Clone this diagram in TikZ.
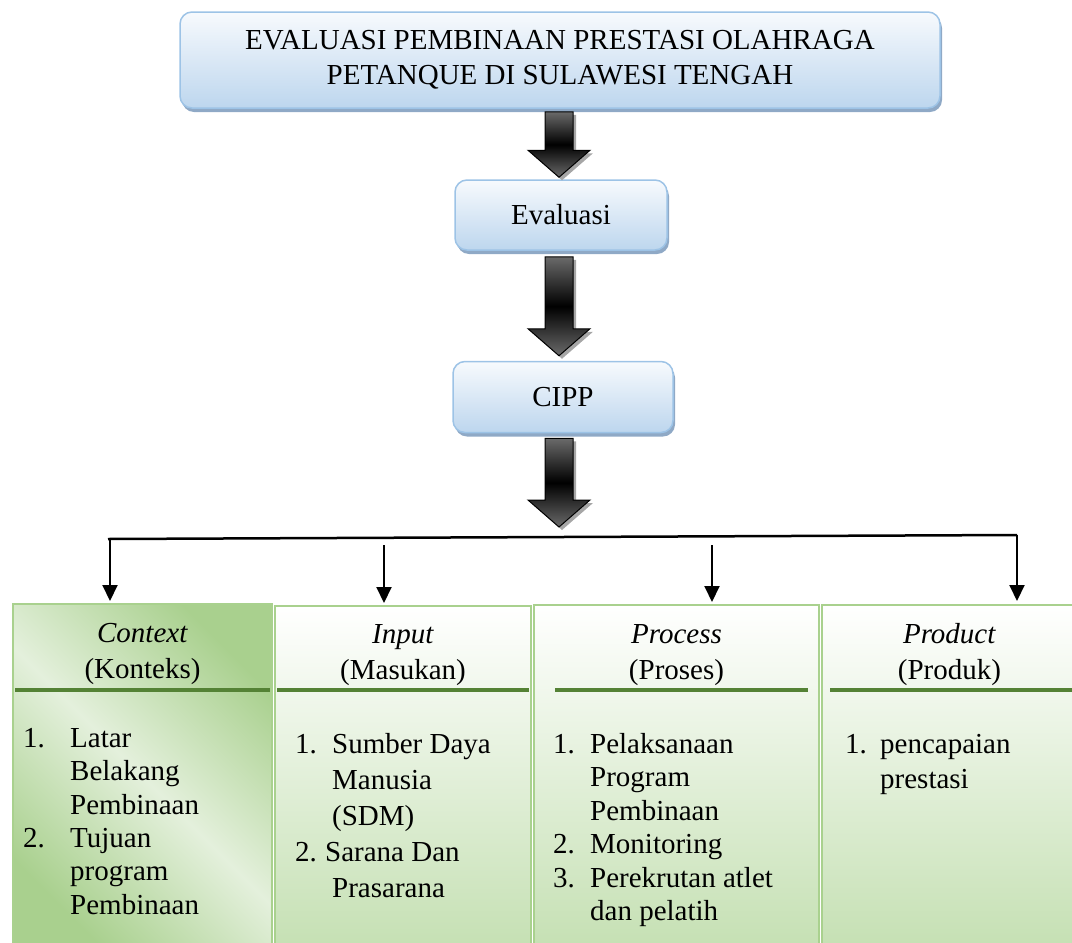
\documentclass[tikz,border=0pt]{standalone}
\usepackage{fontspec}
\setmainfont{Liberation Serif}
\usetikzlibrary{arrows.meta,calc,shadows}
\definecolor{bluebord}{HTML}{9DC3E6}
\definecolor{bluetop}{HTML}{F7FAFD}
\definecolor{bluebot}{HTML}{BDD6EE}
\definecolor{blueshadow}{HTML}{8FA9C6}
\definecolor{greenbord}{HTML}{A9D18E}
\definecolor{greenbot}{HTML}{C5E0B3}
\definecolor{greendark}{HTML}{A9D08E}
\definecolor{greenlight}{HTML}{E4F0DC}
\definecolor{hdrline}{HTML}{548235}
\definecolor{arrgray}{HTML}{6A6A6A}
\newcommand\BlkArrow[2]{%
  \path[blockarr] let \p1=(#1), \p2=(#2) in
    (\x1-14pt,\y1) -- (\x1+14pt,\y1) -- (\x1+14pt,\y2+27pt) -- (\x1+31pt,\y2+27pt)
    -- (\x1,\y2) -- (\x1-31pt,\y2+27pt) -- (\x1-14pt,\y2+27pt) -- cycle;}
\begin{document}
\begin{tikzpicture}[x=1pt,y=-1pt,
  bluebox/.style={draw=bluebord, line width=1.5pt, rounded corners=12pt,
    top color=bluetop, bottom color=bluebot, inner sep=0pt, align=center,
    font=\fontsize{29}{35}\selectfont,
    drop shadow={shadow xshift=2pt, shadow yshift=-4pt, fill=blueshadow, opacity=1}},
  blockarr/.style={draw=black, line width=1pt, top color=arrgray,
    bottom color=arrgray, middle color=black,
    drop shadow={shadow xshift=3pt, shadow yshift=-3pt, fill=gray!70, opacity=1}},
  greenbox/.style={draw=greenbord, line width=2pt, rectangle, anchor=north west, inner sep=0pt},
  plainshade/.style={top color=white, bottom color=greenbot},
  hdr/.style={draw=hdrline, line width=4pt},
  hdrtext/.style={anchor=north, inner sep=0pt, font=\fontsize{29}{36}\selectfont},
  listtext/.style={anchor=north west, inner sep=0pt},
  thinarr/.style={line width=2pt, -{Triangle[width=15pt,length=16pt]}},
  hline/.style={line width=2.5pt}
]
\useasboundingbox (0,0) rectangle (1072,943);

% top boxes
\node[bluebox, minimum width=760pt, minimum height=96pt] (title) at (560,60)
  {EVALUASI PEMBINAAN PRESTASI OLAHRAGA\\PETANQUE DI SULAWESI TENGAH};
\node[bluebox, minimum width=212pt, minimum height=70pt] (eval) at (561,215) {Evaluasi};
\node[bluebox, minimum width=220pt, minimum height=71pt] (cipp) at (563,397) {CIPP};

% block arrows
\coordinate (hub) at (559,527);
\BlkArrow{$(title.south)+(-1,3)$}{$(eval.north)+(-2,-2)$}
\BlkArrow{$(eval.south)+(-2,6)$}{$(cipp.north)+(-4,-5)$}
\BlkArrow{$(cipp.south)+(-4,5)$}{hub}

% bottom boxes
\node[greenbox, shading=axis, top color=greendark, bottom color=greendark,
  middle color=greenlight, shading angle=-45,
  minimum width=259pt, minimum height=345pt] (ctx) at (12,603) {};
\node[greenbox, plainshade, minimum width=256pt, minimum height=343pt] (inp) at (274,605) {};
\node[greenbox, plainshade, minimum width=285pt, minimum height=344pt] (prc) at (533,604) {};
\node[greenbox, plainshade, minimum width=255pt, minimum height=344pt] (prd) at (821,604) {};

% header separators
\draw[hdr] ($(ctx.north west)+(3,87)$) -- ($(ctx.north east)+(-3,87)$);
\draw[hdr] ($(inp.north west)+(3,85)$) -- ($(inp.north east)+(-3,85)$);
\draw[hdr] ($(prc.north west)+(22,86)$) -- ($(prc.north east)+(-12,86)$);
\draw[hdr] ($(prd.north west)+(9,86)$) -- ($(prd.north east)+(0,86)$);

% connectors
\coordinate (hl) at (108,539);
\coordinate (hr) at (1017,535);
\coordinate (m1) at (384,545);
\coordinate (m2) at (712,545);
\draw[hline] (hl) -- (hr);
\draw[thinarr] ($(hl)+(2,0)$) -- ($(hl |- ctx.north)+(2,-2)$);
\draw[thinarr] (m1) -- ($(m1 |- inp.north)+(0,-2)$);
\draw[thinarr] (m2) -- ($(m2 |- prc.north)+(0,-2)$);
\draw[thinarr] (hr) -- ($(hr |- prd.north)+(0,-3)$);

% headers
\node[hdrtext] (ctxh) at ($(ctx.north)+(0,14)$)
  {\begin{tabular}{@{}c@{}}\textit{Context}\\(Konteks)\end{tabular}};
\node[hdrtext] (inph) at ($(inp.north)+(0,13)$)
  {\begin{tabular}{@{}c@{}}\textit{Input}\\(Masukan)\end{tabular}};
\node[hdrtext] (prch) at ($(prc.north)+(0,14)$)
  {\begin{tabular}{@{}c@{}}\textit{Process}\\(Proses)\end{tabular}};
\node[hdrtext] (prdh) at ($(prd.north)+(0,14)$)
  {\begin{tabular}{@{}c@{}}\textit{Product}\\(Produk)\end{tabular}};

% lists
\node[listtext, font=\fontsize{29}{33.3}\selectfont] (ctxl) at (23,724)
  {\begin{tabular}{@{}l@{}}
   \makebox[47pt][l]{1.}Latar\\
   \hspace{47pt}Belakang\\
   \hspace{47pt}Pembinaan\\
   \makebox[47pt][l]{2.}Tujuan\\
   \hspace{47pt}program\\
   \hspace{47pt}Pembinaan
   \end{tabular}};
\node[listtext, font=\fontsize{29}{36}\selectfont] (inpl) at (295,728)
  {\begin{tabular}{@{}l@{}}
   \makebox[37pt][l]{1.}Sumber Daya\\
   \hspace{37pt}Manusia\\
   \hspace{37pt}(SDM)\\
   \makebox[30pt][l]{2.}Sarana Dan\\
   \hspace{37pt}Prasarana
   \end{tabular}};
\node[listtext, font=\fontsize{29}{33.5}\selectfont] (prcl) at (553,729.5)
  {\begin{tabular}{@{}l@{}}
   \makebox[37pt][l]{1.}Pelaksanaan\\
   \hspace{37pt}Program\\
   \hspace{37pt}Pembinaan\\
   \makebox[37pt][l]{2.}Monitoring\\
   \makebox[37pt][l]{3.}Perekrutan atlet\\
   \hspace{37pt}dan pelatih
   \end{tabular}};
\node[listtext, font=\fontsize{29}{35}\selectfont] (prdl) at (845,728.5)
  {\begin{tabular}{@{}l@{}}
   \makebox[35pt][l]{1.}pencapaian\\
   \hspace{35pt}prestasi
   \end{tabular}};
\end{tikzpicture}
\end{document}
